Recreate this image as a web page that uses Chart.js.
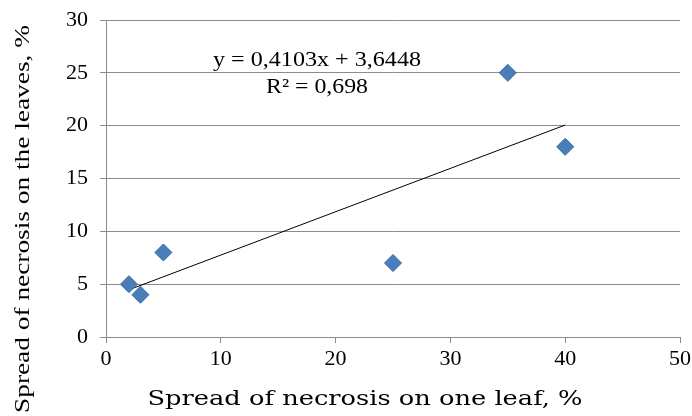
<!DOCTYPE html>
<html>
<head>
<meta charset="utf-8">
<script src="https://cdn.jsdelivr.net/npm/chart.js@4/dist/chart.umd.min.js"></script>
<style>
html,body{margin:0;padding:0;background:#fff;}
#wrap{width:692px;height:416px;}
</style>
</head>
<body>
<div id="wrap"><canvas id="c" width="692" height="416"></canvas></div>
<script>
// Data
const pointsX = [2, 3, 5, 25, 35, 40];
const pointsY = [5, 4, 8, 7, 25, 18];
const trendX = [2, 40];
const trendY = [4.47, 20.06];
const xTicks = [0, 10, 20, 30, 40, 50];
const yTicks = [0, 5, 10, 15, 20, 25, 30];
const xTitle = "Spread of necrosis on one leaf, %";
const yTitle = "Spread of necrosis on the leaves, %";
const eqLine1 = "y = 0,4103x + 3,6448";
const eqLine2 = "R² = 0,698";

const FONT = "'Liberation Serif', 'Times New Roman', serif";
const WIDEFONT = "'DejaVu Serif', serif";

function fitText(ctx, text, cx, cy, font, targetW) {
  ctx.font = font;
  const w = ctx.measureText(text).width;
  const sx = targetW / w;
  ctx.save();
  ctx.translate(cx, cy);
  ctx.scale(sx, 1);
  ctx.fillText(text, 0, 0);
  ctx.restore();
}

const textPlugin = {
  id: 'texts',
  afterDraw(chart) {
    const ctx = chart.ctx;
    ctx.save();
    ctx.fillStyle = '#000';
    ctx.textAlign = 'center';
    ctx.textBaseline = 'middle';
    // y title
    ctx.save();
    ctx.translate(23, 219);
    ctx.rotate(-Math.PI / 2);
    fitText(ctx, yTitle, 0, 0, "22px " + FONT, 388);
    ctx.restore();
    // x title
    fitText(ctx, xTitle, 365, 400, "20px " + WIDEFONT, 435);
    // equation
    fitText(ctx, eqLine1, 317, 60, "21px " + FONT, 208);
    fitText(ctx, eqLine2, 317, 87, "21px " + FONT, 102);
    ctx.restore();
  }
};

new Chart(document.getElementById('c'), {
  type: 'scatter',
  data: {
    datasets: [
      {
        data: pointsX.map((x, i) => ({x: x, y: pointsY[i]})),
        pointStyle: 'rectRot',
        pointRadius: 8.5,
        pointHoverRadius: 8.5,
        backgroundColor: '#4a7ebb',
        borderColor: '#3566a3',
        borderWidth: 1,
        order: 1
      },
      {
        data: trendX.map((x, i) => ({x: x, y: trendY[i]})),
        showLine: true,
        pointRadius: 0,
        borderColor: '#000',
        borderWidth: 1,
        order: 2
      }
    ]
  },
  options: {
    responsive: false,
    animation: false,
    layout: {padding: {left: 0, right: 12, top: 20, bottom: 0}},
    plugins: {legend: {display: false}, tooltip: {enabled: false}},
    scales: {
      x: {
        type: 'linear',
        min: 0, max: 50,
        afterBuildTicks(s) { s.ticks = xTicks.map(v => ({value: v})); },
        afterFit(s) { s.height = 79; s.paddingLeft = 0; s.paddingRight = 0; },
        grid: {drawOnChartArea: false, drawTicks: true, tickLength: 6, color: '#8c8c8c'},
        border: {display: true, color: '#8c8c8c'},
        ticks: {font: {family: FONT, size: 22}, color: '#000', padding: 3, maxRotation: 0}
      },
      y: {
        type: 'linear',
        min: 0, max: 30,
        afterBuildTicks(s) { s.ticks = yTicks.map(v => ({value: v})); },
        afterFit(s) { s.width = 106; s.paddingTop = 0; s.paddingBottom = 0; },
        grid: {drawOnChartArea: true, drawTicks: true, tickLength: 6, color: '#8c8c8c'},
        border: {display: true, color: '#8c8c8c'},
        ticks: {font: {family: FONT, size: 22}, color: '#000', padding: 12}
      }
    }
  },
  plugins: [textPlugin]
});
</script>
</body>
</html>
